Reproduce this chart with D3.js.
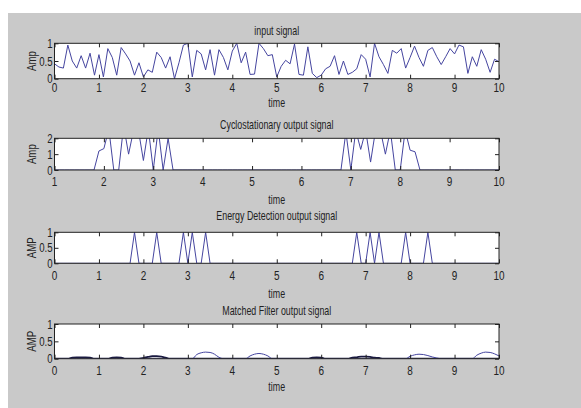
<!DOCTYPE html>
<html>
<head>
<meta charset="utf-8">
<script src="https://cdn.jsdelivr.net/npm/d3@7"></script>
<style>
  body { margin: 0; background: #fff; }
  svg text { font-family: "Liberation Sans", Arial, sans-serif; fill: #222; }
</style>
</head>
<body>
<svg id="svg" width="581" height="408"></svg>
<script>
// ---- data ----
// input signal, t = 0 .. 10 step 0.1
const inputValues = [
  0.42, 0.33, 0.30, 0.95, 0.50, 0.30, 0.65, 0.30, 0.72, 0.10,
  0.68, 0.05, 0.85, 0.60, 0.10, 0.88, 0.70, 0.50, 0.10, 0.45,
  0.05, 0.25, 0.18, 0.75, 0.60, 0.30, 0.62, 0.00, 0.45, 0.95,
  1.00, 0.05, 0.80, 0.70, 0.25, 0.82, 0.10, 0.82, 0.60, 0.25,
  0.78, 1.00, 0.45, 0.75, 0.12, 0.13, 1.00, 0.85, 0.65, 0.68,
  0.05, 0.35, 0.52, 0.42, 0.98, 0.12, 0.10, 0.90, 0.15, 0.03,
  0.10, 0.28, 0.35, 0.65, 0.12, 0.50, 0.12, 0.18, 0.28, 0.68,
  0.55, 0.05, 1.00, 0.62, 0.40, 0.15, 0.80, 0.72, 0.85, 0.30,
  0.60, 0.92, 0.60, 0.35, 0.80, 0.88, 0.62, 0.40, 0.62, 0.85,
  0.70, 0.95, 0.90, 0.15, 0.62, 0.35, 0.82, 0.55, 0.18, 0.55,
  0.48
];

// cyclostationary output, t = 1 .. 10 step 0.1 (values above 2 are clipped by the axes)
const cycloValues = [
  0, 0, 0, 0, 0, 0, 0, 0, 0, 1.2,
  1.35, 2.6, 0, 0, 2.8, 1.0, 2.5, 2.5, 0.6, 2.6,
  0, 2.6, 0, 2.0, 0, 0, 0, 0, 0, 0,
  0, 0, 0, 0, 0, 0, 0, 0, 0, 0,
  0, 0, 0, 0, 0, 0, 0, 0, 0, 0,
  0, 0, 0, 0, 0, 0, 0, 0, 0, 2.4,
  0, 2.5, 1.3, 2.5, 0.5, 2.5, 2.5, 1.0, 2.5, 0,
  0, 2.5, 1.25, 1.15, 0, 0, 0, 0, 0, 0,
  0, 0, 0, 0, 0, 0, 0, 0, 0, 0,
  0
];

// energy detection output, t = 0 .. 10 step 0.1 : times where the detector fires
const energyPeaks = [1.8, 2.3, 2.9, 3.1, 3.4, 6.8, 7.1, 7.3, 7.9, 8.4];

// matched filter output, t = 0 .. 10 step 0.1
const matchedBlue = [
  0, 0, 0, 0, 0, 0, 0, 0, 0, 0,
  0, 0, 0, 0, 0, 0, 0, 0, 0, 0,
  0, 0, 0, 0, 0, 0, 0, 0, 0, 0,
  0, 0, 0.12, 0.17, 0.19, 0.18, 0.13, 0.04, 0, 0,
  0, 0, 0, 0, 0.08, 0.13, 0.15, 0.13, 0.08, 0,
  0, 0, 0, 0, 0, 0, 0, 0, 0, 0,
  0, 0, 0, 0, 0, 0, 0, 0, 0, 0,
  0, 0, 0, 0, 0, 0, 0, 0, 0, 0,
  0.07, 0.11, 0.13, 0.12, 0.09, 0.05, 0.02, 0, 0, 0,
  0, 0, 0, 0, 0, 0.10, 0.16, 0.19, 0.18, 0.14,
  0.08
];
const matchedDark = [
  0, 0, 0, 0, 0.03, 0.04, 0.04, 0.04, 0.03, 0,
  0, 0, 0, 0.03, 0.04, 0.03, 0, 0, 0, 0,
  0.02, 0.05, 0.07, 0.07, 0.06, 0.03, 0, 0, 0, 0,
  0, 0, 0, 0, 0, 0, 0, 0, 0, 0,
  0, 0, 0, 0, 0, 0, 0, 0, 0, 0,
  0, 0, 0, 0, 0, 0, 0, 0, 0.03, 0.04,
  0.03, 0, 0, 0, 0, 0, 0, 0.03, 0.04, 0.06,
  0.06, 0.05, 0.03, 0.02, 0, 0, 0, 0, 0, 0,
  0, 0, 0, 0, 0, 0, 0, 0, 0, 0,
  0, 0, 0, 0, 0, 0, 0, 0, 0, 0,
  0
];

const xTicks = [0, 1, 2, 3, 4, 5, 6, 7, 8, 9, 10];
const xTicksCyclo = [1, 2, 3, 4, 5, 6, 7, 8, 9, 10];
const yTicksUnit = [0, 0.5, 1];
const yTicksCyclo = [0, 1, 2];

// ---- layout ----
const svg = d3.select("#svg");
const lineColor = "#45459f";
const axLeft = 54.5, axRight = 499;
const squeeze = 0.74;   // the picture's text is horizontally condensed

svg.append("rect")
    .attr("x", 8).attr("y", 13)
    .attr("width", 581 - 8).attr("height", 408 - 13)
    .attr("fill", "#c9c9c9");

function toPoints(values, start) {
    return values.map((v, i) => ({t: +(start + i * 0.1).toFixed(1), v: v}));
}

// condensed text, (cx, cy) is the visual centre
function label(g, cx, cy, str, size, rotate) {
    const t = g.append("text")
        .attr("text-anchor", "middle")
        .attr("dy", "0.35em")
        .style("font-size", size + "px")
        .text(str);
    if (rotate) {
        t.attr("transform", `translate(${cx},${cy}) rotate(-90) scale(${squeeze},1)`);
    } else {
        t.attr("transform", `translate(${cx},${cy}) scale(${squeeze},1)`);
    }
}

const panels = [
    {id: "p1", top: 43.3, bottom: 78.7, titleY: 30.7, tickY: 87.5, timeY: 102.5,
     title: "input signal", ylab: "Amp",
     xDomain: [0, 10], yDomain: [0, 1], xt: xTicks, yt: yTicksUnit,
     series: [{pts: toPoints(inputValues, 0), color: lineColor, w: 1}]},
    {id: "p2", top: 138.3, bottom: 170, titleY: 125, tickY: 181.5, timeY: 199.5,
     title: "Cyclostationary output signal", ylab: "Amp",
     xDomain: [1, 10], yDomain: [0, 2], xt: xTicksCyclo, yt: yTicksCyclo,
     series: [{pts: toPoints(cycloValues, 1), color: lineColor, w: 1}]},
    {id: "p3", top: 232.3, bottom: 263.3, titleY: 216, tickY: 275, timeY: 294,
     title: "Energy Detection output signal", ylab: "AMP",
     xDomain: [0, 10], yDomain: [0, 1], xt: xTicks, yt: yTicksUnit,
     series: [{pts: d3.range(101).map(i => {
                  const t = +(i * 0.1).toFixed(1);
                  return {t: t, v: energyPeaks.includes(t) ? 1 : 0};
              }), color: lineColor, w: 1}]},
    {id: "p4", top: 324, bottom: 358.7, titleY: 310.5, tickY: 370, timeY: 387,
     title: "Matched Filter output signal", ylab: "AMP",
     xDomain: [0, 10], yDomain: [0, 1], xt: xTicks, yt: yTicksUnit, curve: d3.curveMonotoneX,
     series: [{pts: toPoints(matchedDark, 0), color: "#1a1a40", w: 1.8},
              {pts: toPoints(matchedBlue, 0), color: lineColor, w: 1}]}
];

panels.forEach(p => {
    const x = d3.scaleLinear().domain(p.xDomain).range([axLeft, axRight]);
    const y = d3.scaleLinear().domain(p.yDomain).range([p.bottom, p.top]);
    const g = svg.append("g");

    g.append("rect")
        .attr("x", axLeft).attr("y", p.top)
        .attr("width", axRight - axLeft).attr("height", p.bottom - p.top)
        .attr("fill", "#fff");

    g.append("clipPath").attr("id", "clip-" + p.id)
      .append("rect")
        .attr("x", axLeft).attr("y", p.top)
        .attr("width", axRight - axLeft).attr("height", p.bottom - p.top);

    const line = d3.line()
        .x(d => x(d.t))
        .y(d => y(d.v))
        .curve(p.curve || d3.curveLinear);

    p.series.forEach(s => {
        g.append("path")
            .datum(s.pts)
            .attr("clip-path", "url(#clip-" + p.id + ")")
            .attr("d", line)
            .attr("fill", "none")
            .attr("stroke", s.color)
            .attr("stroke-width", s.w)
            .attr("stroke-linejoin", "round");
    });

    // matlab style inward ticks on all four sides
    g.append("g")
        .attr("transform", `translate(0,${p.bottom})`)
        .call(d3.axisBottom(x).tickValues(p.xt).tickSizeInner(-4).tickSizeOuter(0).tickFormat(""));
    g.append("g")
        .attr("transform", `translate(0,${p.top})`)
        .call(d3.axisTop(x).tickValues(p.xt).tickSizeInner(-4).tickSizeOuter(0).tickFormat(""));
    g.append("g")
        .attr("transform", `translate(${axLeft},0)`)
        .call(d3.axisLeft(y).tickValues(p.yt).tickSizeInner(-4).tickSizeOuter(0).tickFormat(""));
    g.append("g")
        .attr("transform", `translate(${axRight},0)`)
        .call(d3.axisRight(y).tickValues(p.yt).tickSizeInner(-4).tickSizeOuter(0).tickFormat(""));

    g.selectAll(".domain").remove();
    g.selectAll(".tick line").attr("stroke", "#222");

    // tick labels
    p.xt.forEach(v => label(g, x(v), p.tickY, String(v), 13.5));
    p.yt.forEach(v => {
        const s = v === 0.5 ? "0.5" : String(v);
        g.append("text")
            .attr("text-anchor", "end")
            .attr("dy", "0.35em")
            .attr("transform", `translate(${axLeft - 2},${y(v)}) scale(${squeeze},1)`)
            .style("font-size", "13px")
            .text(s);
    });

    g.append("rect")
        .attr("x", axLeft).attr("y", p.top)
        .attr("width", axRight - axLeft).attr("height", p.bottom - p.top)
        .attr("fill", "none")
        .attr("stroke", "#222")
        .attr("stroke-width", 1);

    label(g, (axLeft + axRight) / 2, p.titleY, p.title, 12);
    label(g, (axLeft + axRight) / 2, p.timeY, "time", 12);
    label(g, 31.5, (p.top + p.bottom) / 2, p.ylab, 13, true);
});
</script>
</body>
</html>
